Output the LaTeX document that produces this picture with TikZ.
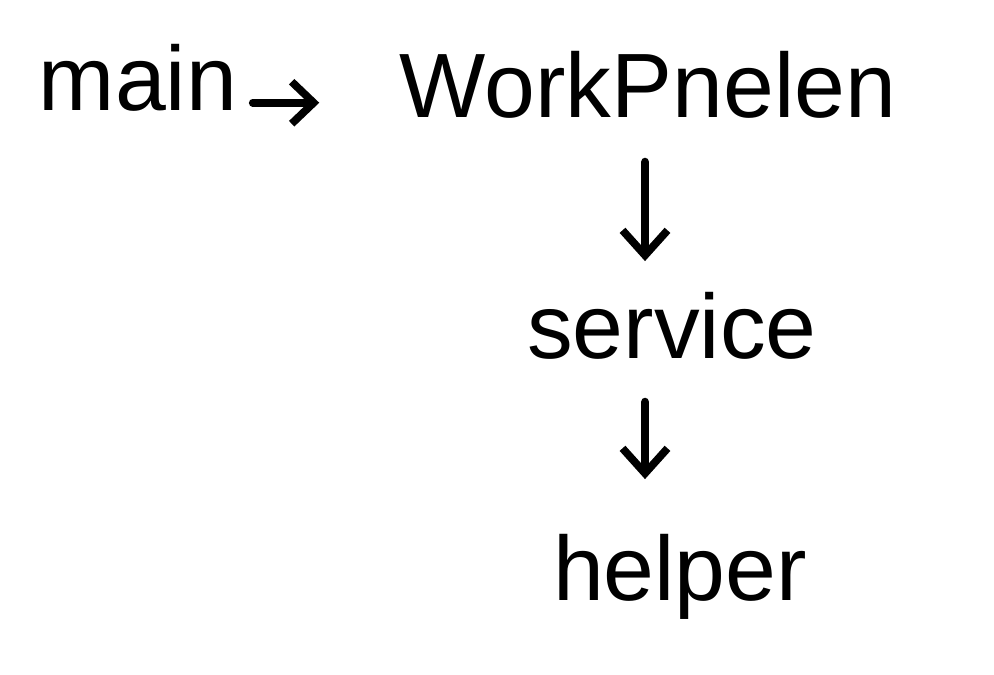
\documentclass[tikz,border=0pt]{standalone}
\usepackage{fontspec}
\setmainfont{Liberation Sans}
\usetikzlibrary{arrows.meta, positioning}

\begin{document}
\begin{tikzpicture}[
    word/.style={inner sep=0pt, anchor=base, font=\fontsize{26}{30}\selectfont},
    arr/.style={-{Straight Barb[length=2.5mm, width=4.5mm]}, line width=2.2pt,
                line cap=round, line join=round}]
    \useasboundingbox (0,0) rectangle (9.94,6.74);

    % Words
    \node[word] (main) at (1.38, 5.64) {main};
    \node[word] (work) at (6.48, 5.57) {WorkPnelen};
    \node[word] (serv) at (6.72, 3.16) {service};
    \node[word] (help) at (6.80, 0.74) {helper};

    % Arrows
    \draw[arr, -{Straight Barb[length=2.2mm, width=4.2mm]}, shorten <=1.5mm, shorten >=8mm]
        ([yshift=-0.2mm]main.mid east) -- ([yshift=-0.2mm]main.mid east -| work.west);
    \draw[arr, shorten <=4.3mm, shorten >=3.0mm]
        ([xshift=-0.3mm]work.south) -- ([xshift=-2.7mm]serv.north);
    \draw[arr, shorten <=4.2mm, shorten >=5.4mm]
        ([xshift=-2.7mm]serv.south) -- ([xshift=-3.5mm]help.north);
\end{tikzpicture}
\end{document}
